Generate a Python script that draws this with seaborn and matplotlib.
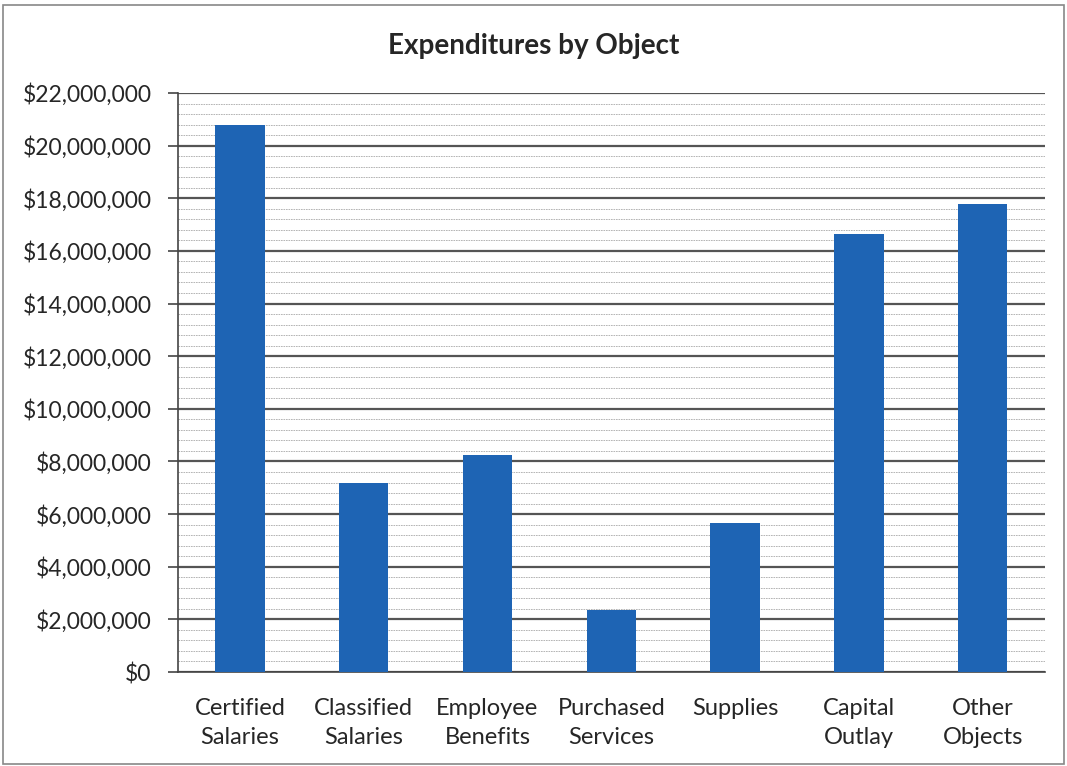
import numpy as np
import pandas as pd
import matplotlib
matplotlib.use('Agg')
import matplotlib.pyplot as plt
import seaborn as sns
from matplotlib.ticker import MultipleLocator, FuncFormatter

# du lieu doc tu hinh
categories = ['Certified\nSalaries', 'Classified\nSalaries', 'Employee\nBenefits',
              'Purchased\nServices', 'Supplies', 'Capital\nOutlay', 'Other\nObjects']
amounts = [20800000, 7200000, 8250000, 2360000, 5660000, 16640000, 17780000]

df = pd.DataFrame({'Object': categories, 'Amount': amounts})

sns.set_style('white')
plt.rcParams['font.family'] = ['Lato', 'DejaVu Sans']

fig = plt.figure(figsize=(10.67, 7.66), dpi=100)
ax = fig.add_axes([0.1668, 0.1227, 0.8122, 0.7559])

sns.barplot(data=df, x='Object', y='Amount', color='#1E64B4', saturation=1,
            width=0.4, linewidth=0, ax=ax, zorder=3)

ax.set_ylim(0, 22000000)
ax.set_xlim(-0.5, len(categories) - 0.5)
ax.yaxis.set_major_locator(MultipleLocator(2000000))
ax.yaxis.set_minor_locator(MultipleLocator(400000))
ax.yaxis.set_major_formatter(FuncFormatter(lambda v, p: f'${v:,.0f}'))

ax.grid(which='major', axis='y', color='#555555', linewidth=1.6, zorder=0)
ax.grid(which='minor', axis='y', color='#aaaaaa', linewidth=0.6, linestyle=(0, (2, 1)), zorder=0)
ax.set_axisbelow(True)

for s in ['top', 'right']:
    ax.spines[s].set_visible(False)
ax.spines['left'].set_color('#444444')
ax.spines['bottom'].set_color('#444444')
ax.spines['left'].set_linewidth(1.2)
ax.spines['bottom'].set_linewidth(1.2)

# tick x nam giua cac cot
ax.set_xticks(np.arange(len(categories)))
ax.set_xticklabels(categories, fontsize=17, linespacing=1.45)
ax.tick_params(axis='x', which='major', length=0, pad=19)
ax.set_xticks(np.arange(len(categories) + 1) - 0.5, minor=True)
ax.tick_params(axis='x', which='minor', length=7, color='#444444', direction='out', width=1.2)
ax.tick_params(axis='y', which='major', labelsize=16.5, length=7, color='#444444', width=1.2,
               direction='out', left=True, pad=12)
ax.tick_params(axis='y', which='minor', length=0)

ax.set_xlabel('')
ax.set_ylabel('')
fig.text(0.5, 0.940, 'Expenditures by Object', ha='center', va='center', fontsize=20, fontweight='bold')

# khung vien
fig.patches.append(plt.Rectangle((0.003, 0.003), 0.994, 0.99, transform=fig.transFigure,
                                 fill=False, edgecolor='#888888', linewidth=1.2))

fig.savefig('out.png', dpi=100)
